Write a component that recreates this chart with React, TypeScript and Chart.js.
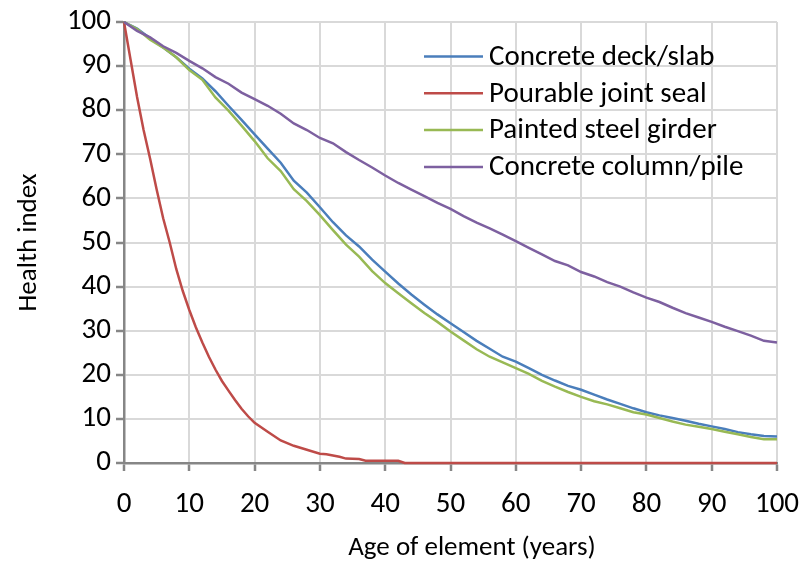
import React, { useEffect, useRef } from "react";
import { Chart, registerables } from "chart.js";

Chart.register(...registerables);

const seriesNames = [
  "Concrete deck/slab",
  "Pourable joint seal",
  "Painted steel girder",
  "Concrete column/pile",
];
const seriesColors = ["#4a7ebb", "#be4b48", "#98b954", "#7d60a0"];

const years = [
  0, 2, 4, 6, 8, 10, 12, 14, 16, 18, 20, 22, 24, 26, 28, 30, 32, 34, 36, 38, 40,
  42, 44, 46, 48, 50, 52, 54, 56, 58, 60, 62, 64, 66, 68, 70, 72, 74, 76, 78, 80,
  82, 84, 86, 88, 90, 92, 94, 96, 98, 100,
];

const deckSlab = [
  100, 98.5, 96.3, 94.2, 92, 89.4, 87.2, 84.3, 81, 77.8, 74.5, 71.3, 68.1, 64,
  61.3, 58, 54.6, 51.6, 49.1, 46.1, 43.4, 40.7, 38.2, 35.9, 33.7, 31.7, 29.7,
  27.7, 25.9, 24.1, 23, 21.5, 20, 18.7, 17.5, 16.6, 15.5, 14.4, 13.4, 12.4, 11.5,
  10.8, 10.2, 9.6, 8.9, 8.3, 7.7, 7.0, 6.5, 6.1, 6.0,
];

const steelGirder = [
  100, 98.4, 96, 94.2, 92, 89.1, 86.9, 82.9, 79.9, 76.5, 73, 69.1, 66.2, 62.1,
  59.4, 56.2, 52.8, 49.5, 46.8, 43.5, 40.8, 38.5, 36.2, 34, 32, 29.8, 27.8, 25.8,
  24.1, 22.8, 21.5, 20.2, 18.6, 17.3, 16.1, 15.0, 14.0, 13.3, 12.4, 11.5, 11.0,
  10.2, 9.4, 8.7, 8.2, 7.7, 7.1, 6.5, 5.9, 5.4, 5.4,
];

const columnPile = [
  100, 98, 96.5, 94.5, 93, 91.2, 89.5, 87.5, 86, 84, 82.5, 81, 79.2, 77, 75.5,
  73.7, 72.5, 70.5, 68.7, 67, 65.2, 63.5, 62, 60.5, 59, 57.6, 56, 54.5, 53.2,
  51.8, 50.3, 48.8, 47.3, 45.8, 44.8, 43.3, 42.3, 41, 40, 38.7, 37.5, 36.5, 35.2,
  34, 33, 32, 30.9, 29.9, 28.9, 27.7, 27.3,
];

const sealYears = [
  0, 1, 2, 3, 4, 5, 6, 7, 8, 9, 10, 11, 12, 13, 14, 15, 16, 17, 18, 19, 20, 22,
  24, 26, 28, 30, 31, 33, 34, 36, 37, 42, 43, 100,
];
const jointSeal = [
  100, 91.5, 83, 75.5, 69, 62, 55.5, 50, 44, 39, 34.7, 30.8, 27.3, 24.1, 21.2,
  18.6, 16.4, 14.3, 12.3, 10.6, 9.1, 7.1, 5.1, 3.9, 3.0, 2.1, 2.0, 1.4, 1.0, 0.9,
  0.5, 0.5, 0, 0,
];

const xTickStep = 10;
const yTickStep = 10;
const xAxisTitle = "Age of element (years)";
const yAxisTitle = "Health index";

const FONT_FAMILY = "Carlito, Lato, 'Open Sans', sans-serif";
const FONT_SIZE = 29;
const TITLE_SIZE = 27;

const pairs = (xs: number[], ys: number[]) =>
  xs.map((x, i) => ({ x, y: ys[i] }));

const insideLegend = {
  id: "insideLegend",
  afterDraw(chart: any, _args: any, opts: any) {
    const { ctx } = chart;
    ctx.save();
    ctx.font = `${FONT_SIZE}px ${FONT_FAMILY}`;
    ctx.textBaseline = "middle";
    ctx.textAlign = "left";
    chart.data.datasets.forEach((ds: any, i: number) => {
      const y = opts.top + i * opts.rowHeight;
      ctx.strokeStyle = ds.borderColor;
      ctx.lineWidth = ds.borderWidth;
      ctx.beginPath();
      ctx.moveTo(opts.x, y);
      ctx.lineTo(opts.x + opts.lineLength, y);
      ctx.stroke();
      ctx.fillStyle = "#000";
      ctx.fillText(ds.label, opts.x + opts.lineLength + opts.gap, y + 1);
    });
    ctx.restore();
  },
};

const xTitlePlugin = {
  id: "xTitle",
  afterDraw(chart: any, _args: any, opts: any) {
    const { ctx } = chart;
    ctx.save();
    ctx.font = `${TITLE_SIZE}px ${FONT_FAMILY}`;
    ctx.textBaseline = "middle";
    ctx.textAlign = "center";
    ctx.fillStyle = "#000";
    ctx.fillText(opts.text, opts.x, opts.y);
    ctx.restore();
  },
};

export default function App() {
  const canvasRef = useRef<HTMLCanvasElement | null>(null);

  useEffect(() => {
    if (!canvasRef.current) return;
    const seriesData = [
      pairs(years, deckSlab),
      pairs(sealYears, jointSeal),
      pairs(years, steelGirder),
      pairs(years, columnPile),
    ];
    const chart = new Chart(canvasRef.current, {
      type: "line",
      data: {
        datasets: seriesNames.map((name, i) => ({
          label: name,
          data: seriesData[i],
          borderColor: seriesColors[i],
          backgroundColor: seriesColors[i],
          borderWidth: 2.5,
          pointRadius: 0,
          tension: 0,
          clip: false as any,
          order: seriesNames.length - i,
        })),
      },
      options: {
        animation: false,
        responsive: false,
        maintainAspectRatio: false,
        layout: { padding: { left: 0, top: 22, right: 24, bottom: 0 } },
        plugins: {
          legend: { display: false },
          tooltip: { enabled: false },
          insideLegend: {
            x: 424,
            top: 56.5,
            rowHeight: 36.8,
            lineLength: 59,
            gap: 6,
          },
          xTitle: { text: xAxisTitle, x: 472, y: 548 },
        } as any,
        scales: {
          x: {
            type: "linear",
            min: 0,
            max: 100,
            afterFit: (s: any) => {
              s.height = 100;
              s.paddingLeft = 0;
              s.paddingRight = 0;
            },
            ticks: {
              stepSize: xTickStep,
              color: "#000",
              padding: 16,
              maxRotation: 0,
              font: { family: FONT_FAMILY, size: FONT_SIZE },
            },
            grid: {
              color: "#d9d9d9",
              lineWidth: 2,
              tickLength: 8,
              tickColor: "#868686",
              tickWidth: 2.5,
            },
            border: { display: true, color: "#868686", width: 2.5 },
          },
          y: {
            type: "linear",
            min: 0,
            max: 100,
            afterFit: (s: any) => {
              s.width = 124;
              s.paddingTop = 0;
              s.paddingBottom = 0;
            },
            ticks: {
              stepSize: yTickStep,
              color: "#000",
              padding: 5,
              font: { family: FONT_FAMILY, size: FONT_SIZE },
            },
            grid: {
              color: "#d9d9d9",
              lineWidth: 2,
              tickLength: 8,
              tickColor: "#868686",
              tickWidth: 2.5,
            },
            border: { display: true, color: "#868686", width: 2.5 },
            title: {
              display: true,
              text: yAxisTitle,
              color: "#000",
              font: { family: FONT_FAMILY, size: TITLE_SIZE, lineHeight: 1 },
              padding: { top: 16, bottom: 0 },
            },
          },
        },
      },
      plugins: [insideLegend, xTitlePlugin],
    });
    return () => chart.destroy();
  }, []);

  return (
    <div
      style={{
        position: "fixed",
        left: 0,
        top: 0,
        width: 801,
        height: 563,
        background: "#fff",
      }}
    >
      <canvas ref={canvasRef} width={801} height={563} />
    </div>
  );
}
